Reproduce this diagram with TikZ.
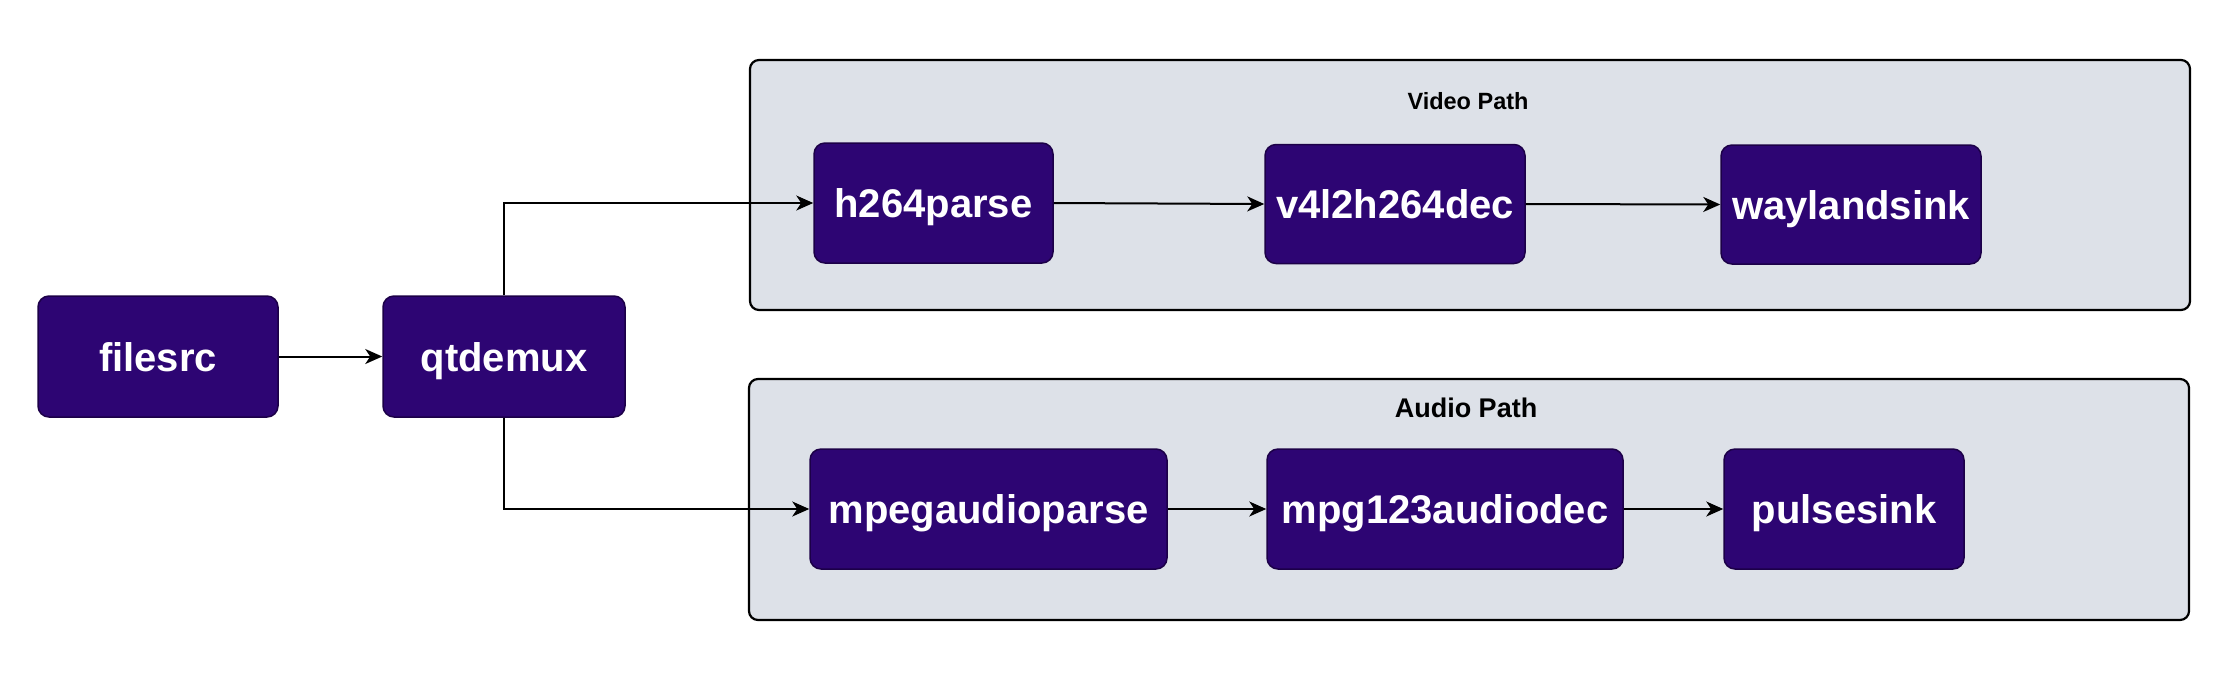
\documentclass[tikz,border=0pt]{standalone}
\usepackage{fontspec}
\setmainfont{Liberation Sans}
\usetikzlibrary{arrows.meta}
\definecolor{nodefill}{HTML}{2D0573}
\definecolor{nodeline}{HTML}{1C0048}
\definecolor{groupfill}{HTML}{DDE1E8}
\begin{document}
\begin{tikzpicture}[x=1pt,y=1pt,
  elem/.style={draw=nodeline, line width=1.5pt, fill=nodefill, rounded corners=11pt,
    text=white, font=\fontsize{40}{46}\selectfont\bfseries, inner sep=0pt, anchor=center,
    text height=29pt, text depth=0pt},
  group/.style={draw=black, line width=2.2pt, fill=groupfill, rounded corners=9pt, inner sep=0pt},
  grouplabel/.style={text=black, font=\bfseries, inner sep=0pt},
  flow/.style={draw=black, line width=2pt, -{Stealth[length=17pt,width=15pt,inset=5pt]}}
]
\useasboundingbox (0,0) rectangle (2223,-681);
% groups
\node[group, minimum width=1440pt, minimum height=250pt] (video) at (1470,-185) {};
\node[group, minimum width=1440pt, minimum height=241pt] (audio) at (1469,-499.5) {};
\node[grouplabel, font=\fontsize{23.5}{28}\selectfont\bfseries] (vlabel) at (1468,-101) {Video Path};
\node[grouplabel, font=\fontsize{27}{32}\selectfont\bfseries] (alabel) at (1466,-408) {Audio Path};
% elements
\node[elem, minimum width=240pt, minimum height=121pt] (filesrc) at (158,-356.5) {filesrc};
\node[elem, minimum width=242pt, minimum height=121pt] (qtdemux) at (504,-356.5) {qtdemux};
\node[elem, minimum width=239pt, minimum height=120pt] (h264) at (933.5,-203) {h264parse};
\node[elem, minimum width=260pt, minimum height=119pt] (v4l2) at (1395,-204) {v4l2h264dec};
\node[elem, minimum width=260pt, minimum height=119pt] (wayland) at (1851,-204.5) {waylandsink};
\node[elem, minimum width=357pt, minimum height=120pt] (mpegparse) at (988.5,-509) {mpegaudioparse};
\node[elem, minimum width=356pt, minimum height=120pt] (mpgdec) at (1445,-509) {mpg123audiodec};
\node[elem, minimum width=240pt, minimum height=120pt] (pulse) at (1844,-509) {pulsesink};
% connectors
\draw[flow] (filesrc.east) -- (qtdemux.west);
\draw[flow] (qtdemux.north) |- (h264.west);
\draw[flow] (qtdemux.south) |- (mpegparse.west);
\draw[flow] (h264.east) -- (v4l2.west);
\draw[flow] (v4l2.east) -- (wayland.west);
\draw[flow] (mpegparse.east) -- (mpgdec.west);
\draw[flow] (mpgdec.east) -- (pulse.west);
\end{tikzpicture}
\end{document}
